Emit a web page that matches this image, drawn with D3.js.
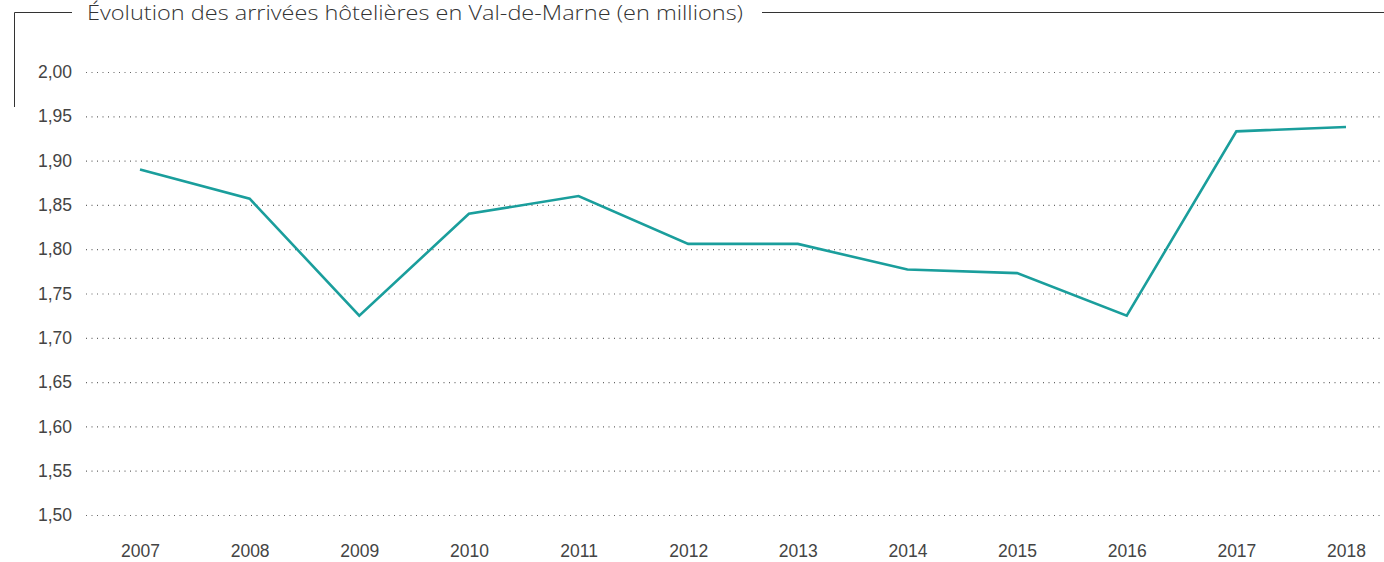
<!DOCTYPE html>
<html><head><meta charset="utf-8">
<script src="https://cdn.jsdelivr.net/npm/d3@7"></script>
<style>body{margin:0;background:#fff}svg{display:block}</style>
</head><body>
<svg id="c" width="1384" height="562"></svg>
<script>
const years = ["2007","2008","2009","2010","2011","2012","2013","2014","2015","2016","2017","2018"];
const arrivals = [1.890,1.857,1.725,1.840,1.860,1.806,1.806,1.777,1.773,1.725,1.933,1.938];
const yTicks = [1.50,1.55,1.60,1.65,1.70,1.75,1.80,1.85,1.90,1.95,2.00];
const title = "Évolution des arrivées hôtelières en Val-de-Marne (en millions)";

const svg = d3.select("#c");
const W = 1384;
const x = d3.scalePoint().domain(years).range([140, 1346]);
const y = d3.scaleLinear().domain([1.5, 2.0]).range([515, 72]);

// frame lines
svg.append("path").attr("d","M14.5,107 V12.5 H72").attr("fill","none").attr("stroke","#333").attr("stroke-width",1);
svg.append("line").attr("x1",762).attr("x2",W).attr("y1",12.5).attr("y2",12.5).attr("stroke","#333").attr("stroke-width",1);
svg.append("text").attr("x",87).attr("y",20).attr("font-family","'Open Sans', sans-serif").attr("font-weight",300)
  .attr("font-size",20).attr("fill","#333").attr("textLength",656).attr("lengthAdjust","spacingAndGlyphs").text(title);

// y axis grid
const yAxis = d3.axisLeft(y).tickValues(yTicks).tickSize(-(W-86)).tickFormat(d => d3.format(".2f")(d).replace(".", ","));
const gy = svg.append("g").attr("transform","translate(86,0)").call(yAxis);
gy.select(".domain").remove();
gy.selectAll(".tick line").attr("stroke","#666").attr("stroke-dasharray","1,4.5").attr("stroke-width",1.2);
gy.selectAll(".tick text").attr("x",-14).attr("font-family","'Liberation Sans', Arial, sans-serif").attr("font-size",17.5).attr("fill","#444");

// x axis
const xAxis = d3.axisBottom(x).tickSize(0);
const gx = svg.append("g").attr("transform","translate(0,536)").call(xAxis);
gx.select(".domain").remove();
gx.selectAll(".tick text").attr("dy","0.71em").attr("y",9).attr("font-family","'Liberation Sans', Arial, sans-serif").attr("font-size",17.5).attr("fill","#444");

// line
const line = d3.line().x((d,i)=>x(years[i])).y(d=>y(d));
svg.append("path").datum(arrivals).attr("d",line).attr("fill","none").attr("stroke","#1a9e9c").attr("stroke-width",2.6).attr("stroke-linejoin","miter");
</script>
</body></html>
